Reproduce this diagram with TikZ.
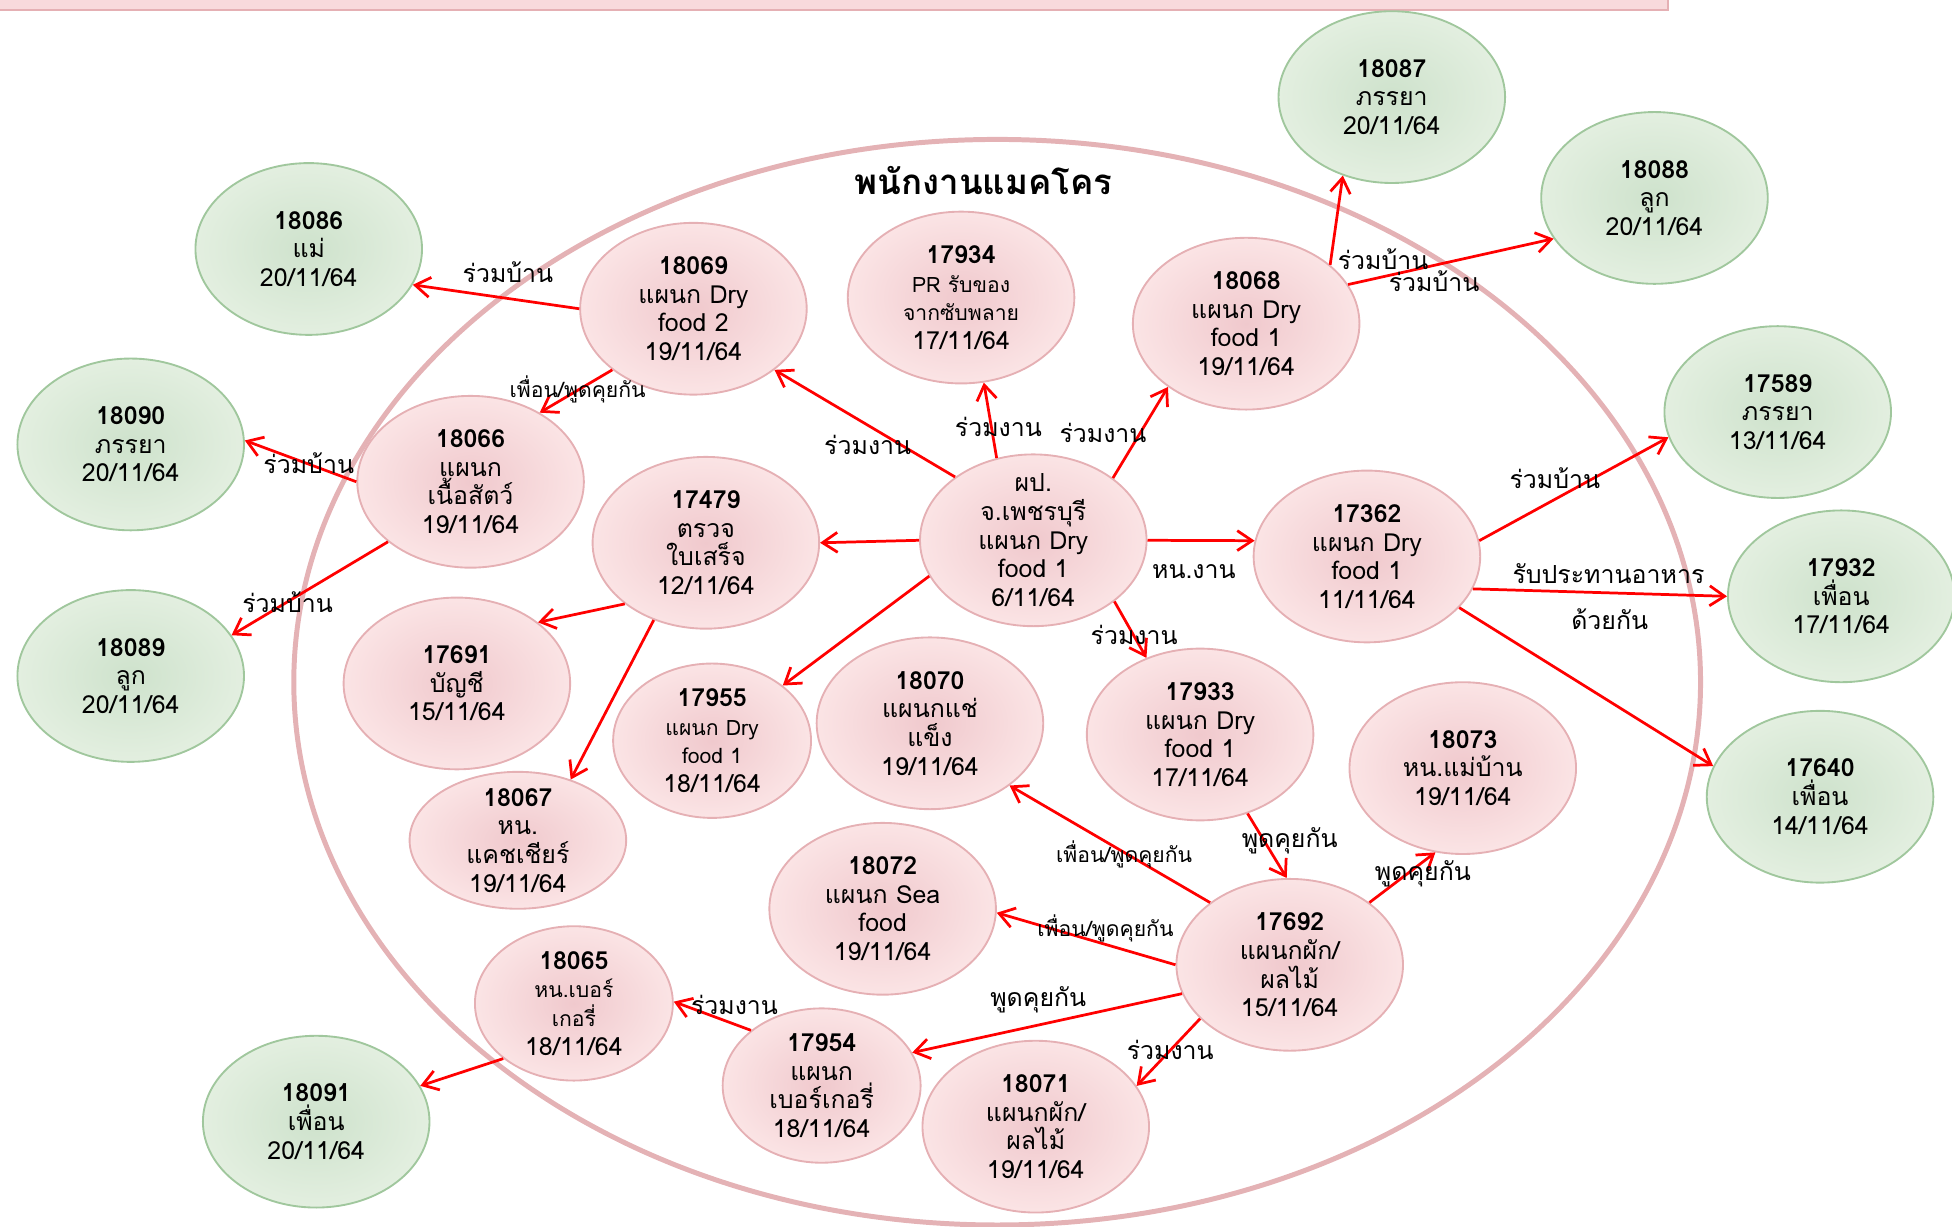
\documentclass[tikz,border=0pt]{standalone}
\usepackage{fontspec}
\setmainfont{Loma}[Script=Thai]
\usetikzlibrary{shapes.geometric,arrows.meta}
\definecolor{pinkin}{RGB}{240,201,205}
\definecolor{pinkout}{RGB}{251,228,229}
\definecolor{pinkrim}{RGB}{229,176,180}
\definecolor{greenin}{RGB}{206,226,204}
\definecolor{greenout}{RGB}{227,239,224}
\definecolor{greenrim}{RGB}{160,199,157}
\definecolor{ringrim}{RGB}{228,178,181}
\definecolor{barfill}{RGB}{248,218,220}
\newcommand\smtxt{\fontsize{8.5}{11.5}\selectfont}
\AtBeginDocument{\lineskiplimit=-20pt\relax}
\tikzset{
  staff/.style={ellipse, draw=pinkrim, line width=0.75pt, inner color=pinkin, outer color=pinkout,
    minimum width=91pt, minimum height=69pt, inner sep=-20pt, align=center,
    font=\fontsize{10}{11.5}\selectfont},
  smallstaff/.style={staff, minimum width=79.5pt, minimum height=62pt},
  kin/.style={staff, draw=greenrim, inner color=greenin, outer color=greenout},
  link/.style={draw=red, line width=1.1pt, -{Straight Barb[length=6pt,width=8pt]}},
  rel/.style={inner sep=0pt, font=\fontsize{10}{11.5}\selectfont},
  relsm/.style={inner sep=0pt, font=\fontsize{8.5}{10}\selectfont},
}
\begin{document}
\begin{tikzpicture}[x=0.5pt,y=0.5pt,yscale=-1,xscale=1]
\useasboundingbox (0,0) rectangle (1568,985);
\clip (0,0) rectangle (1568,985);

%Shape: Rectangle (title bar, cut off)
\draw [draw=pinkrim, fill=barfill, line width=0.75pt] (-10,-30) rectangle (1340,8);
%Shape: Ellipse (staff ring)
\draw [draw=ringrim, line width=2pt] (801,548) ellipse [x radius=565, y radius=436];

% Text Node
\node [inner sep=0pt, font=\fontsize{14}{16}\selectfont\bfseries] (title) at (790,145) {พนักงานแมคโคร};

%Shape: Circles, family and friends
\node [kin] (n18086) at (248,200) {\textbf{18086}\\แม่\\20/11/64};
\node [kin] (n18090) at (105,357) {\textbf{18090}\\ภรรยา\\20/11/64};
\node [kin] (n18089) at (105,543) {\textbf{18089}\\ลูก\\20/11/64};
\node [kin] (n18091) at (254,901) {\textbf{18091}\\เพื่อน\\20/11/64};
\node [kin] (n18087) at (1118,78) {\textbf{18087}\\ภรรยา\\20/11/64};
\node [kin] (n18088) at (1329,159) {\textbf{18088}\\ลูก\\20/11/64};
\node [kin] (n17589) at (1428,331) {\textbf{17589}\\ภรรยา\\13/11/64};
\node [kin] (n17932) at (1479,479) {\textbf{17932}\\เพื่อน\\17/11/64};
\node [kin] (n17640) at (1462,640) {\textbf{17640}\\เพื่อน\\14/11/64};

%Shape: Circles, staff
\node [staff] (n18069) at (557,248) {\textbf{18069}\\แผนก Dry\\food 2\\19/11/64};
\node [staff] (n17934) at (772,239) {\textbf{17934}\\{\smtxt PR รับของ}\\{\smtxt จากซับพลาย}\\17/11/64};
\node [staff] (n18068) at (1001,260) {\textbf{18068}\\แผนก Dry\\food 1\\19/11/64};
\node [staff] (n18066) at (378,387) {\textbf{18066}\\แผนก\\เนื้อสัตว์\\19/11/64};
\node [staff] (n17479) at (567,436) {\textbf{17479}\\ตรวจ\\ใบเสร็จ\\12/11/64};
\node [staff] (pt) at (830,434) {ผป.\\จ.เพชรบุรี\\แผนก Dry\\food 1\\6/11/64};
\node [staff] (n17362) at (1098,447) {\textbf{17362}\\แผนก Dry\\food 1\\11/11/64};
\node [staff] (n17691) at (367,549) {\textbf{17691}\\บัญชี\\15/11/64};
\node [smallstaff] (n17955) at (572,595) {\textbf{17955}\\{\smtxt แผนก Dry}\\{\smtxt food 1}\\18/11/64};
\node [staff] (n18070) at (747,581) {\textbf{18070}\\แผนกแช่\\แข็ง\\19/11/64};
\node [staff] (n17933) at (964,590) {\textbf{17933}\\แผนก Dry\\food 1\\17/11/64};
\node [staff] (n18073) at (1175,617) {\textbf{18073}\\หน.แม่บ้าน\\19/11/64};
\node [staff, minimum width=87pt, minimum height=55pt] (n18067) at (416,675) {\textbf{18067}\\หน.\\แคชเชียร์\\19/11/64};
\node [staff] (n18072) at (709,730) {\textbf{18072}\\แผนก Sea\\food\\19/11/64};
\node [staff] (n17692) at (1036,775) {\textbf{17692}\\แผนกผัก/\\ผลไม้\\15/11/64};
\node [smallstaff] (n18065) at (461,806) {\textbf{18065}\\{\smtxt หน.เบอร์}\\{\smtxt เกอรี่}\\18/11/64};
\node [smallstaff] (n17954) at (660,872) {\textbf{17954}\\แผนก\\เบอร์เกอรี่\\18/11/64};
\node [staff] (n18071) at (832,905) {\textbf{18071}\\แผนกผัก/\\ผลไม้\\19/11/64};

%Straight Lines
\draw [link] (pt.141) -- (n18069.-37);
\draw [link] (pt.114) -- (n17934.-75);
\draw [link] (pt.38) -- (n18068.219);
\draw [link] (pt.180) -- (n17479.0);
\draw [link] (pt.0) -- (n17362.172);
\draw [link] (pt.199) -- (n17955.38);
\draw [link] (pt.-37) -- (n17933.125);
\draw [link] (n18069.180) -- (n18086.-19);
\draw [link] (n18069.217) -- (n18066.45);
\draw [link] (n18066.180) -- (n18090.2);
\draw [link] (n18066.216) -- (n18089.22);
\draw [link] (n17479.217) -- (n17691.37);
\draw [link] (n17479.236) -- (n18067.49);
\draw [link] (n18068.35) -- (n18087.238);
\draw [link] (n18068.21) -- (n18088.202);
\draw [link] (n17362.8) -- (n17589.193);
\draw [link] (n17362.-17) -- (n17932.180);
\draw [link] (n17362.-29) -- (n17640.164);
\draw [link] (n17933.-59) -- (n17692.92);
\draw [link] (n17692.38) -- (n18073.252);
\draw [link] (n17692.142) -- (n18070.-38);
\draw [link] (n17692.180) -- (n18072.-2);
\draw [link] (n17692.195) -- (n17954.20);
\draw [link] (n17692.211) -- (n18071.22);
\draw [link] (n17954.142) -- (n18065.1);
\draw [link] (n18065.218) -- (n18091.19);

% Text Nodes
\node [rel] (l1) at (697,357) {ร่วมงาน};
\node [rel] (l2) at (802,343) {ร่วมงาน};
\node [rel] (l3) at (886,348) {ร่วมงาน};
\node [rel] (l4) at (959,459) {หน.งาน};
\node [rel] (l5) at (911,510) {ร่วมงาน};
\node [rel] (l6) at (408,219) {ร่วมบ้าน};
\node [relsm] (l7) at (464,313) {เพื่อน/พูดคุยกัน};
\node [rel] (l8) at (248,372) {ร่วมบ้าน};
\node [rel] (l9) at (231,484) {ร่วมบ้าน};
\node [rel] (l10) at (1111,208) {ร่วมบ้าน};
\node [rel] (l11) at (1152,226) {ร่วมบ้าน};
\node [rel] (l12) at (1249,384) {ร่วมบ้าน};
\node [rel] (l13) at (1292,461) {รับประทานอาหาร};
\node [rel] (l14) at (1293,497) {ด้วยกัน};
\node [rel] (l15) at (1036,675) {พูดคุยกัน};
\node [rel] (l16) at (1143,702) {พูดคุยกัน};
\node [relsm] (l17) at (903,686) {เพื่อน/พูดคุยกัน};
\node [relsm] (l18) at (888,746) {เพื่อน/พูดคุยกัน};
\node [rel] (l19) at (834,803) {พูดคุยกัน};
\node [rel] (l20) at (940,843) {ร่วมงาน};
\node [rel] (l21) at (590,807) {ร่วมงาน};

\end{tikzpicture}
\end{document}
